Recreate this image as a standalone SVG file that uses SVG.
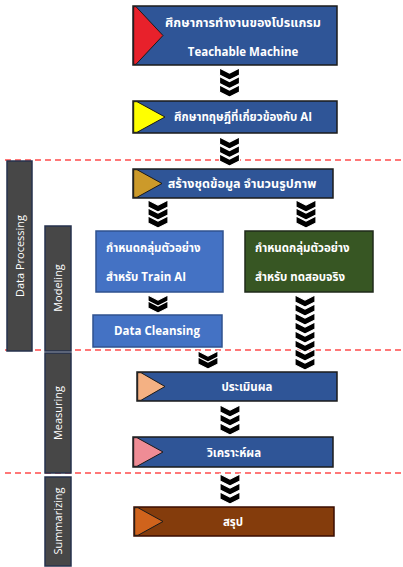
<svg xmlns="http://www.w3.org/2000/svg" width="403" height="567" viewBox="0 0 403 567">
<style>
.box{stroke:#1b1b1b;stroke-width:1.5}
.dk{fill:#2F5597}
.lt{fill:#4472C4;stroke:#2F528F;stroke-width:1.5}
.tri{stroke:#1b1b1b;stroke-width:1}
.t{font-family:"Open Sans","Noto Sans Thai",Tahoma,"Noto Sans","DejaVu Sans",sans-serif;font-size:11.5px;font-weight:bold;fill:#ffffff}
.big{font-size:12.6px}
.side{fill:#474747;stroke:#26324d;stroke-width:1.5}
.st{font-family:"Open Sans","Noto Sans","DejaVu Sans",sans-serif;font-size:11px;fill:#ffffff}
.dash{stroke:#FF4B4B;stroke-width:1.5;stroke-dasharray:6 4;fill:none}
.ch{fill:#000000;stroke:#ffffff;stroke-width:1.2;stroke-linejoin:miter}
</style>
<defs>
<path id="chev" class="ch" d="M0,0 L10,5 L20,0 L20,7 L10,12 L0,7 Z"/>
</defs>

<g id="dividers">
<line class="dash" x1="5" y1="160" x2="403" y2="160"/>
<line class="dash" x1="5" y1="350" x2="403" y2="350"/>
<line class="dash" x1="5" y1="473" x2="403" y2="473"/>
</g>

<g id="phase-data-processing">
<rect class="side" x="7" y="161" width="25" height="190"/>
<text class="st" transform="translate(24 256) rotate(-90)" text-anchor="middle">Data Processing</text>
</g>
<g id="phase-modeling">
<rect class="side" x="45" y="226" width="26" height="125"/>
<text class="st" transform="translate(62 288) rotate(-90)" text-anchor="middle">Modeling</text>
</g>
<g id="phase-measuring">
<rect class="side" x="45" y="353" width="26" height="120"/>
<text class="st" transform="translate(62 413) rotate(-90)" text-anchor="middle">Measuring</text>
</g>
<g id="phase-summarizing">
<rect class="side" x="45" y="477" width="26" height="89"/>
<text class="st" transform="translate(62 521) rotate(-90)" text-anchor="middle">Summarizing</text>
</g>

<g id="connectors">
<g transform="translate(219.5 68)"><use href="#chev"/><use href="#chev" y="8.5"/><use href="#chev" y="17"/></g>
<g transform="translate(219.5 137)"><use href="#chev"/><use href="#chev" y="8.5"/><use href="#chev" y="17"/></g>
<g transform="translate(148 200)"><use href="#chev"/><use href="#chev" y="8"/><use href="#chev" y="16"/></g>
<g transform="translate(296 200)"><use href="#chev"/><use href="#chev" y="8"/><use href="#chev" y="16"/></g>
<g transform="translate(148 295)"><use href="#chev"/><use href="#chev" y="6"/></g>
<g transform="translate(295 295)"><use href="#chev"/><use href="#chev" y="9"/><use href="#chev" y="18"/><use href="#chev" y="27"/><use href="#chev" y="36"/><use href="#chev" y="45"/><use href="#chev" y="54"/><use href="#chev" y="63"/></g>
<g transform="translate(198 351)"><use href="#chev"/><use href="#chev" y="6"/></g>
<g transform="translate(220 405)"><use href="#chev"/><use href="#chev" y="9"/><use href="#chev" y="18"/></g>
<g transform="translate(220 474)"><use href="#chev"/><use href="#chev" y="9"/><use href="#chev" y="18"/></g>
</g>

<g id="n1">
<rect class="box dk" x="133" y="6" width="204" height="59"/>
<polygon class="tri" fill="#E8212B" points="133.7,6.7 136,6.7 163,35.5 136,64.3 133.7,64.3"/>
<text class="t big" x="243" y="27" text-anchor="middle">ศึกษาการทำงานของโปรแกรม</text>
<text class="t" x="243" y="56" text-anchor="middle">Teachable Machine</text>
</g>
<g id="n2">
<rect class="box dk" x="133" y="101" width="204" height="32"/>
<polygon class="tri" fill="#FFFF00" points="133.7,101.7 137,101.7 165,117 137,132.3 133.7,132.3"/>
<text class="t" x="243" y="121" text-anchor="middle">ศึกษาทฤษฎีที่เกี่ยวข้องกับ AI</text>
</g>
<g id="n3">
<rect class="box dk" x="133" y="169" width="200" height="29"/>
<polygon class="tri" fill="#CC9A2A" points="133.7,169.7 137,169.7 162,183.5 137,197.3 133.7,197.3"/>
<text class="t big" x="242" y="188" text-anchor="middle">สร้างชุดข้อมูล จำนวนรูปภาพ</text>
</g>
<g id="n4">
<rect class="lt" x="96" y="231" width="127" height="61"/>
<text class="t" x="106" y="252">กำหนดกลุ่มตัวอย่าง</text>
<text class="t" x="106" y="281">สำหรับ Train AI</text>
</g>
<g id="n5">
<rect x="245" y="231" width="128" height="61" fill="#375623" stroke="#1f2a1a" stroke-width="1.5"/>
<text class="t" x="255" y="252">กำหนดกลุ่มตัวอย่าง</text>
<text class="t" x="255" y="281">สำหรับ ทดสอบจริง</text>
</g>
<g id="n6">
<rect class="lt" x="93" y="315" width="129" height="32"/>
<text class="t" x="157" y="335" text-anchor="middle">Data Cleansing</text>
</g>
<g id="n7">
<rect class="box dk" x="137" y="372" width="200" height="29"/>
<polygon class="tri" fill="#F4B183" points="137.7,372.7 141,372.7 165,386.5 141,400.3 137.7,400.3"/>
<text class="t" x="247" y="391" text-anchor="middle">ประเมินผล</text>
</g>
<g id="n8">
<rect class="box dk" x="133" y="437" width="200" height="30"/>
<polygon class="tri" fill="#EF8C95" points="133.7,437.7 137,437.7 163,452 137,466.3 133.7,466.3"/>
<text class="t" x="234" y="457" text-anchor="middle">วิเคราะห์ผล</text>
</g>
<g id="n9">
<rect x="134" y="507" width="200" height="29" fill="#843C0C" stroke="#3a0d00" stroke-width="1.5"/>
<polygon class="tri" fill="#D0631C" points="134.7,507.7 138,507.7 163,521.5 138,535.3 134.7,535.3"/>
<text class="t" x="233" y="526" text-anchor="middle">สรุป</text>
</g>
</svg>
